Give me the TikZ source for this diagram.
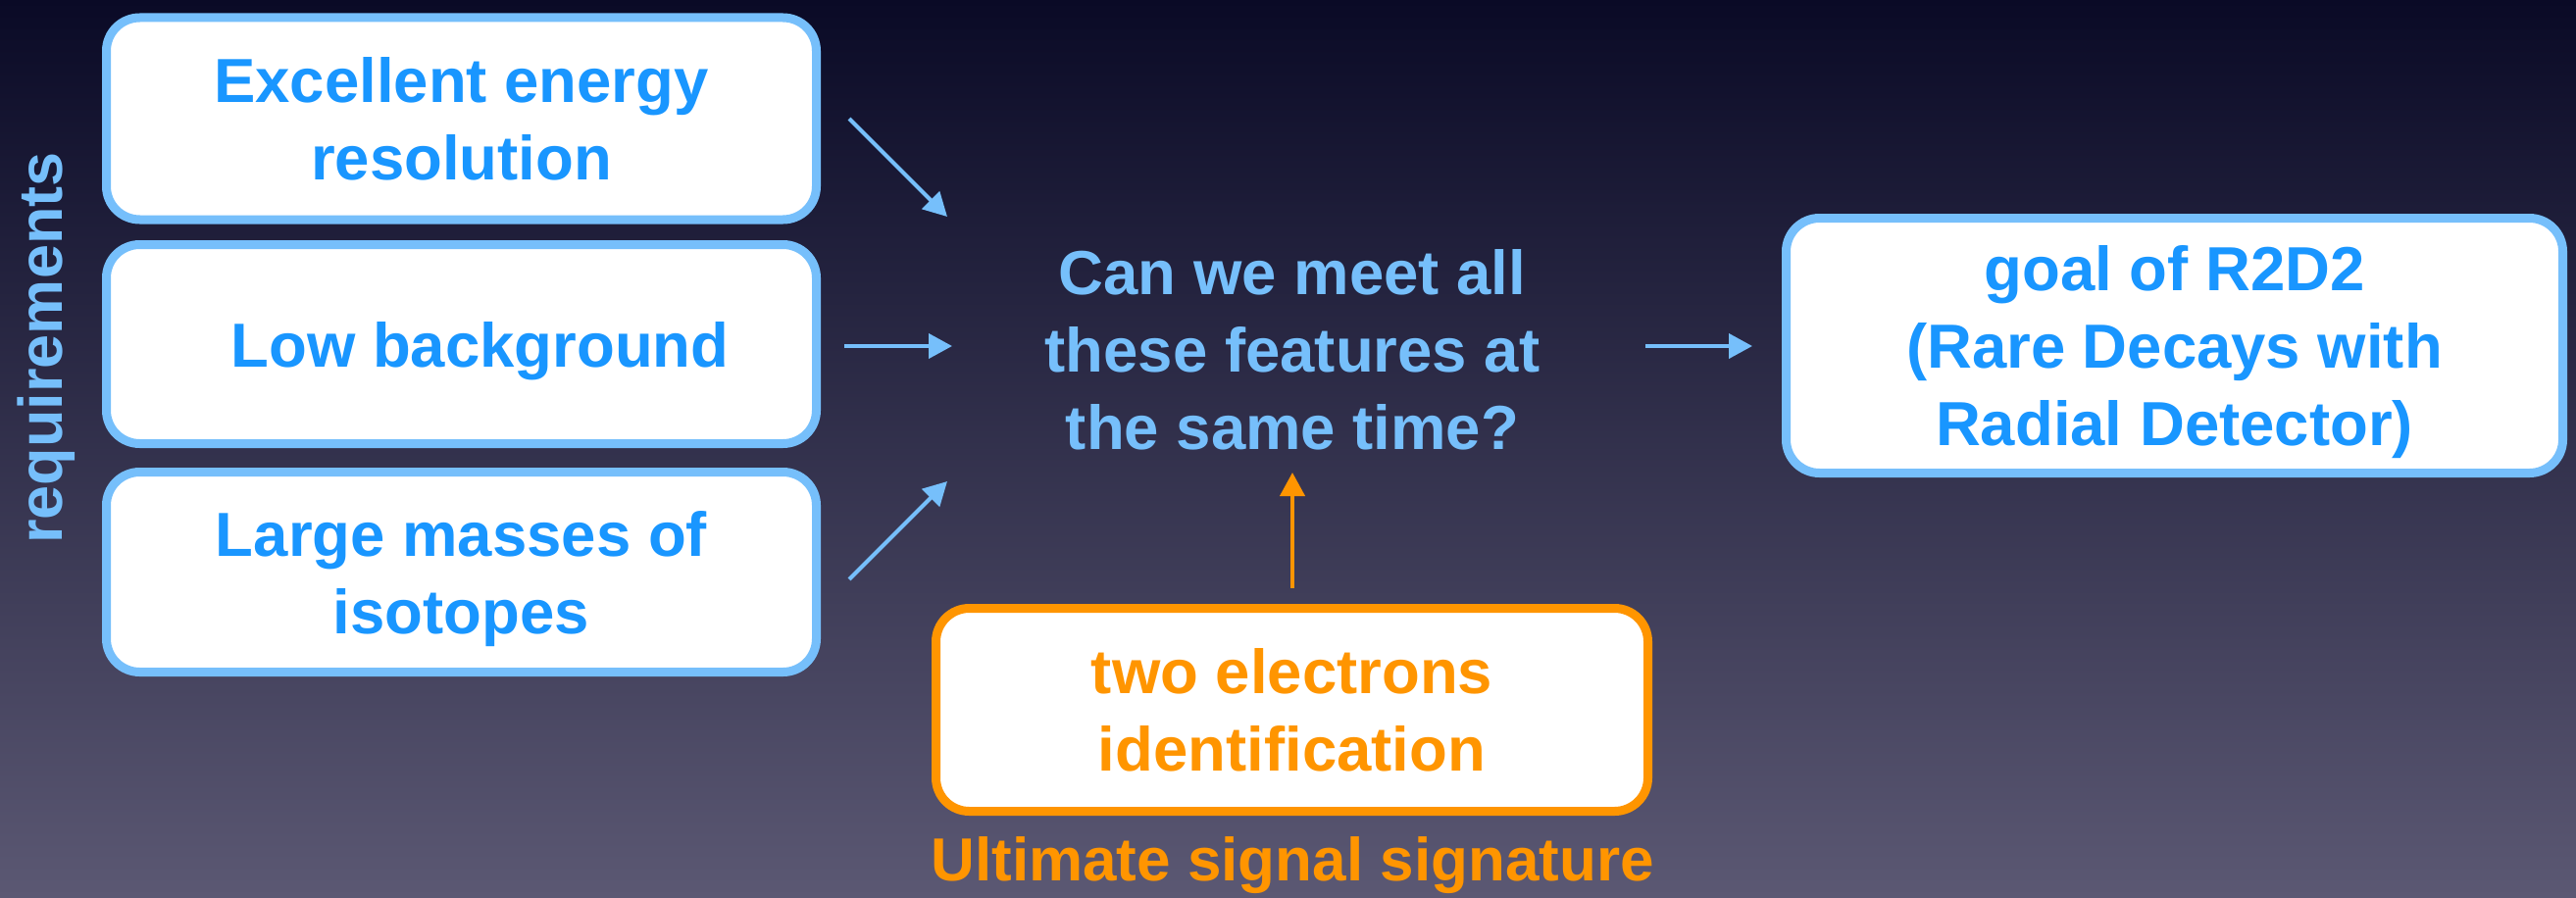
\documentclass[tikz,border=0pt]{standalone}
\usepackage{fontspec}
\setmainfont{Liberation Sans}
\usetikzlibrary{arrows.meta,calc}
\definecolor{bgtop}{HTML}{0A0A26}
\definecolor{bgbot}{HTML}{5B5873}
\definecolor{txtblue}{HTML}{1996FF}
\definecolor{lblue}{HTML}{76BFFB}
\definecolor{orng}{HTML}{FF9500}
\tikzset{
  boxbase/.style={draw, line width=4.5pt, rounded corners=17pt, fill=white, align=center,
    font=\fontsize{31.75}{39.5}\selectfont\bfseries, inner sep=0pt},
  bluebox/.style={boxbase, draw=lblue, text=txtblue},
  orangebox/.style={boxbase, draw=orng, text=orng},
  arr/.style={draw=lblue, line width=2pt, -{Triangle[length=12pt,width=12.5pt]}},
  oarr/.style={draw=orng, line width=2pt, -{Triangle[length=12pt,width=12.5pt]}},
}
\begin{document}
\begin{tikzpicture}[x=0.5pt,y=-0.5pt]
\shade[top color=bgtop, bottom color=bgbot] (0,0) rectangle (2627,915);
\useasboundingbox (0,0) rectangle (2627,915);

\node[rotate=90, text=lblue, font=\fontsize{31.5}{37}\selectfont\bfseries] (req) at (47,355) {requirements};

\node[bluebox, minimum width=362pt, minimum height=103pt, text depth=-9pt] (b1) at (470.5,121) {Excellent energy\\resolution};
\node[bluebox, minimum width=362pt, minimum height=101.5pt, text depth=-2pt] (b2) at (470.5,351) {\hspace*{19pt}Low background};
\node[bluebox, minimum width=362pt, minimum height=102pt, text depth=-3pt] (b3) at (470.5,583.5) {Large masses of\\isotopes};

\node[text=lblue, align=center, font=\fontsize{31.75}{39.5}\selectfont\bfseries, inner sep=0pt] (q) at (1318,357) {Can we meet all\\these features at\\the same time?};

\node[bluebox, minimum width=396pt, minimum height=130pt, text depth=-2pt] (goal) at (2217.5,352.5) {goal of R2D2\\(Rare Decays with\\Radial Detector)};

\node[orangebox, minimum width=363pt, minimum height=103.5pt, text depth=-1.5pt] (two) at (1317.5,724) {two electrons\\identification};
\node[text=orng, font=\fontsize{31}{37}\selectfont\bfseries, inner sep=0pt] (ult) at (1318,883) {Ultimate signal signature};

\coordinate (a1s) at (866,121);
\coordinate (a1e) at (966,221);
\coordinate (a2s) at (861,353);
\coordinate (a2e) at (971,353);
\coordinate (a3s) at (866,591);
\coordinate (a3e) at (966,491);
\coordinate (a4s) at (1678,353);
\coordinate (a4e) at (1787,353);
\coordinate (a5s) at (1318,600);
\coordinate (a5e) at (1318,482);

\draw[arr] (a1s) -- (a1e);
\draw[arr] (a2s) -- (a2e);
\draw[arr] (a3s) -- (a3e);
\draw[arr] (a4s) -- (a4e);
\draw[oarr] (a5s) -- (a5e);
\end{tikzpicture}
\end{document}
